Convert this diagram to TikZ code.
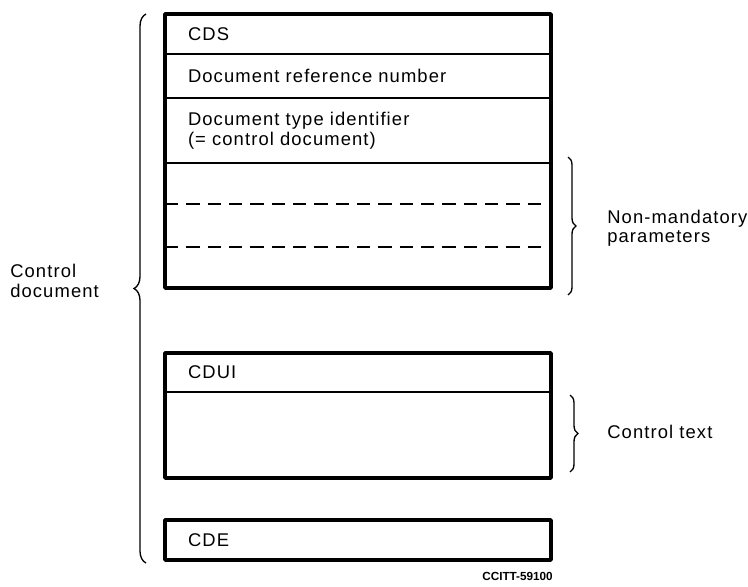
\documentclass[tikz,border=0pt]{standalone}
\usepackage{fontspec}
\setmainfont{Liberation Sans}[LetterSpace=6]
\newfontfamily\codefont{Liberation Sans}
\usetikzlibrary{decorations.pathreplacing}
\begin{document}
\begin{tikzpicture}[x=0.75pt,y=-0.75pt,
  row/.style={anchor=north west, inner xsep=17.25pt, inner ysep=0pt, outer sep=0pt,
    text width=255pt, align=left, font=\fontsize{13.8pt}{15pt}\selectfont},
  frame/.style={line width=2.6pt, line join=round},
  divider/.style={line width=1.3pt},
  dashline/.style={line width=1.3pt, dash pattern=on 10pt off 6pt},
  bracestyle/.style={line width=1pt, decorate, decoration={brace, amplitude=#1}},
  lbl/.style={anchor=west, align=left, inner sep=0pt, font=\fontsize{13.8pt}{14.5pt}\selectfont}]
\useasboundingbox (0,0) rectangle (748,586);
% upper block
\node[row, minimum height=30pt] (cds) at (165,14) {CDS};
\node[row, minimum height=33pt] (ref) at (cds.south west) {Document reference number};
\node[row, minimum height=48.75pt] (type) at (ref.south west) {Document type identifier\\(= control document)};
\node[row, minimum height=30.75pt] (np1) at (type.south west) {};
\node[row, minimum height=32.25pt] (np2) at (np1.south west) {};
\node[row, minimum height=30.75pt] (np3) at (np2.south west) {};
% middle block
\node[row, minimum height=29.25pt] (cdui) at (165,353) {CDUI};
\node[row, minimum height=64.5pt] (ctext) at (cdui.south west) {};
% bottom block
\node[row, minimum height=30pt] (cde) at (165,520) {CDE};
% frames and dividers
\draw[divider] (cds.south west) -- (cds.south east);
\draw[divider] (ref.south west) -- (ref.south east);
\draw[divider] (type.south west) -- (type.south east);
\draw[dashline] (np1.south west) -- (np1.south east);
\draw[dashline] (np2.south west) -- (np2.south east);
\draw[divider] (cdui.south west) -- (cdui.south east);
\draw[frame] (cds.north west) rectangle (np3.south east);
\draw[frame] (cdui.north west) rectangle (ctext.south east);
\draw[frame] (cde.north west) rectangle (cde.south east);
% braces
\draw[bracestyle=9pt] ([xshift=-14.25pt,yshift=-2.25pt]cde.south west) -- ([xshift=-14.25pt]cds.north west);
\draw[bracestyle=6pt] ([xshift=12.75pt,yshift=4.5pt]np1.north east) -- ([xshift=12.75pt,yshift=-5.25pt]np3.south east);
\draw[bracestyle=6pt] ([xshift=14.25pt,yshift=-2.25pt]ctext.north east) -- ([xshift=14.25pt,yshift=4.5pt]ctext.south east);
% labels
\node[lbl] (npl) at (607,228) {Non-mandatory\\parameters};
\node[lbl] (ctl) at (607,432) {Control text};
\node[lbl] (cdl) at (10,281) {Control\\document};
\node[anchor=east, inner sep=0pt, font=\codefont\bfseries\fontsize{8.8pt}{9pt}\selectfont] (code) at (553,576) {CCITT-59100};
\end{tikzpicture}
\end{document}
